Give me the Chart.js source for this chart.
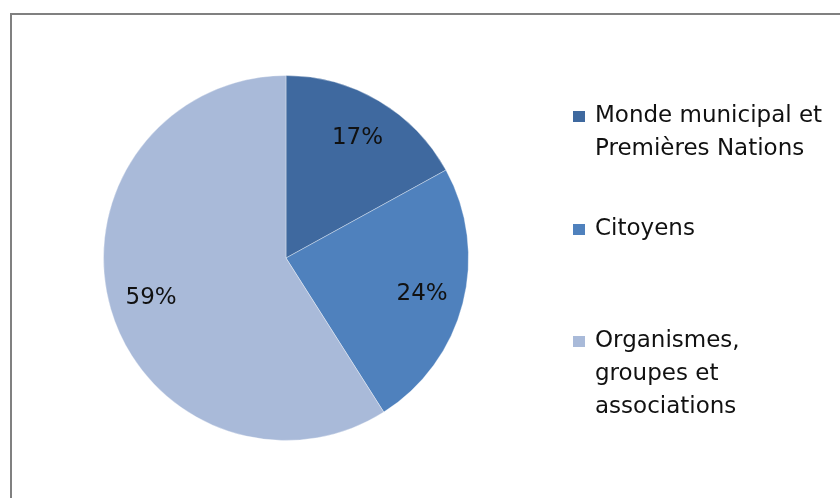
<!DOCTYPE html>
<html>
<head>
<meta charset="utf-8">
<script src="https://cdn.jsdelivr.net/npm/chart.js@4"></script>
<style>
  html, body { margin: 0; padding: 0; background: #fff; overflow: hidden; }
  #frame {
    position: absolute; left: 10px; top: 13px;
    width: 840px; height: 500px;
    border-left: 2px solid #808080; border-top: 2px solid #808080;
  }
  #wrap { position: absolute; left: 0; top: 0; width: 840px; height: 498px; }
</style>
</head>
<body>
<div id="frame"></div>
<div id="wrap"><canvas id="pie" width="840" height="498"></canvas></div>
<script>
// categories, one array entry per legend line
const categories = [
  ['Monde municipal et', 'Premières Nations'],
  ['Citoyens'],
  ['Organismes,', 'groupes et', 'associations']
];
const shares = [17, 24, 59];
const sliceColors = ['#3f699f', '#4f81bd', '#a9bad9'];

const FONT = '"DejaVu Sans", Verdana, sans-serif';

// percent labels inside each slice + the legend on the right
const pieLabels = {
  id: 'pieLabels',
  afterDatasetsDraw(chart) {
    const ctx = chart.ctx;
    const arcs = chart.getDatasetMeta(0).data;
    ctx.save();
    ctx.font = '23px ' + FONT;
    ctx.fillStyle = '#111';
    ctx.textAlign = 'center';
    ctx.textBaseline = 'middle';
    arcs.forEach((arc, i) => {
      const p = arc.getProps(['x', 'y', 'startAngle', 'endAngle', 'outerRadius'], true);
      const mid = (p.startAngle + p.endAngle) / 2;
      const r = p.outerRadius * 0.77;
      ctx.fillText(shares[i] + '%', p.x + Math.cos(mid) * r, p.y + Math.sin(mid) * r + 1);
    });
    ctx.restore();
  },
  afterDraw(chart) {
    const ctx = chart.ctx;
    const firstBaseline = [122, 235, 347];
    const lineH = 33;
    ctx.save();
    ctx.font = '23px ' + FONT;
    ctx.textAlign = 'left';
    ctx.textBaseline = 'alphabetic';
    categories.forEach((lines, i) => {
      const y0 = firstBaseline[i];
      ctx.fillStyle = sliceColors[i];
      ctx.fillRect(573, y0 - 11, 12, 11);
      ctx.fillStyle = '#111';
      lines.forEach((t, j) => ctx.fillText(t, 595, y0 + j * lineH));
    });
    ctx.restore();
  }
};

new Chart(document.getElementById('pie'), {
  type: 'pie',
  data: {
    labels: categories.map(l => l.join(' ')),
    datasets: [{
      data: shares,
      backgroundColor: sliceColors,
      borderColor: 'rgba(255,255,255,0.35)',
      borderWidth: 1,
      hoverOffset: 0,
      offset: 0
    }]
  },
  options: {
    responsive: false,
    animation: false,
    layout: { padding: { left: 103, top: 75, right: 371, bottom: 57 } },
    plugins: {
      legend: { display: false },
      tooltip: { enabled: false }
    }
  },
  plugins: [pieLabels]
});
</script>
</body>
</html>
